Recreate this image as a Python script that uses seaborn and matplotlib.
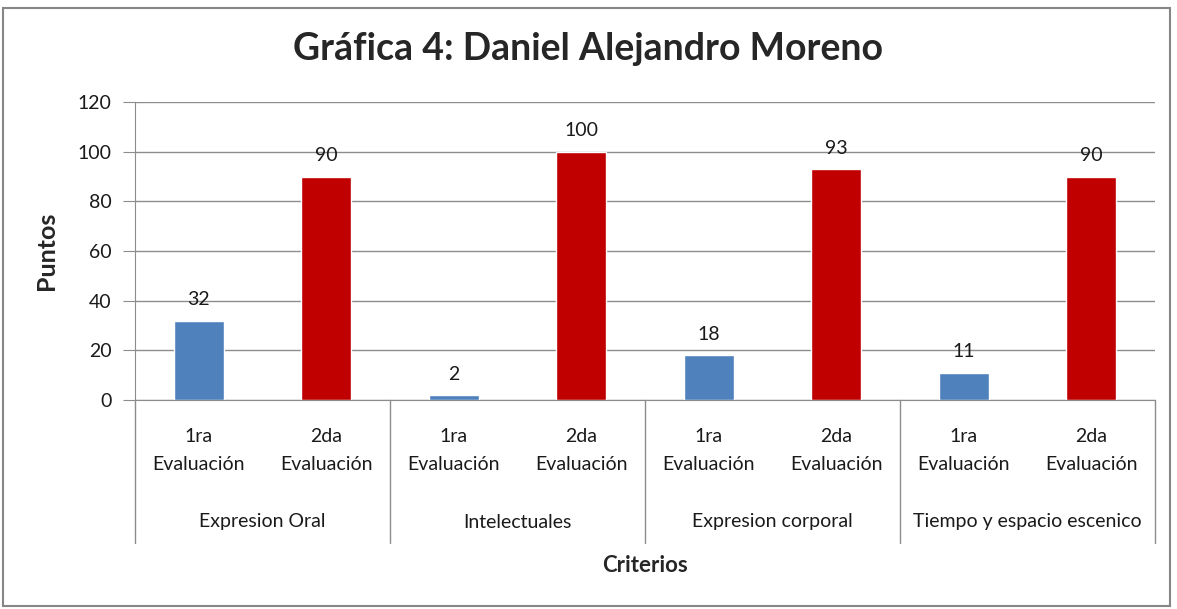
import pandas as pd
import numpy as np
import matplotlib.pyplot as plt
import seaborn as sns
from matplotlib.patches import Rectangle

criterios = ['Expresion Oral', 'Intelectuales', 'Expresion corporal', 'Tiempo y espacio escenico']
evaluaciones = ['1ra\nEvaluación', '2da\nEvaluación']
primera = [32, 2, 18, 11]
segunda = [90, 100, 93, 90]
colores = ['#4F81BD', '#C00000']

filas = []
for i, c in enumerate(criterios):
    filas.append({'pos': 2 * i, 'criterio': c, 'evaluacion': evaluaciones[0], 'puntos': primera[i]})
    filas.append({'pos': 2 * i + 1, 'criterio': c, 'evaluacion': evaluaciones[1], 'puntos': segunda[i]})
df = pd.DataFrame(filas)

sns.set_style('white')
plt.rcParams['font.family'] = ['Lato', 'DejaVu Sans']

fig = plt.figure(figsize=(11.77, 6.09), dpi=100)
ax = fig.add_axes([135 / 1177, 1 - 400 / 609, 1020 / 1177, 298 / 609])

sns.barplot(data=df, x='pos', y='puntos', hue='evaluacion', palette=colores, saturation=1,
            dodge=False, width=0.39, legend=False, ax=ax)

# etiquetas de valores
for p, v in zip(df['pos'], df['puntos']):
    ax.text(p, v + 5, str(v), ha='center', va='bottom', fontsize=14, color='#1a1a1a')

ax.set_ylim(0, 120)
ax.set_xlim(-0.5, 7.5)
ax.set_yticks(range(0, 121, 20))
ax.yaxis.grid(True, color='#8C8C8C', linewidth=1)
ax.set_axisbelow(True)
for s in ['top', 'right']:
    ax.spines[s].set_visible(False)
ax.spines['left'].set_color('#8C8C8C')
ax.spines['bottom'].set_color('#8C8C8C')
ax.tick_params(axis='y', left=True, length=9, color='#8C8C8C', labelsize=14, labelcolor='#1a1a1a', pad=8)
ax.tick_params(axis='x', bottom=False, labelsize=14, labelcolor='#1a1a1a', pad=17)
ax.set_xticks(range(8))
ax.set_xticklabels([e for _ in criterios for e in evaluaciones], linespacing=1.75)
ax.set_xlabel('')
ax.set_ylabel('Puntos', fontsize=18, fontweight='bold', labelpad=14)

# separadores y etiquetas de grupo
trans = ax.get_xaxis_transform()
for b in [-0.5, 1.5, 3.5, 5.5, 7.5]:
    ax.plot([b, b], [0, -143 / 298], transform=trans, color='#8C8C8C', lw=1, clip_on=False)
for i, c in enumerate(criterios):
    ax.text(2 * i + 0.5, -122 / 298, c, transform=trans, ha='center', va='center', fontsize=14, color='#1a1a1a')

fig.text(645 / 1177, 1 - 565 / 609, 'Criterios', ha='center', va='center', fontsize=16, fontweight='bold')
fig.text(588 / 1177, 1 - 49 / 609, 'Gráfica 4: Daniel Alejandro Moreno', ha='center', va='center',
         fontsize=27, fontweight='bold')

fig.patches.append(Rectangle((3 / 1177, 3 / 609), 1167 / 1177, 598 / 609, transform=fig.transFigure,
                             fill=False, edgecolor='#868686', lw=1.5))

fig.savefig('out.png', dpi=100)
